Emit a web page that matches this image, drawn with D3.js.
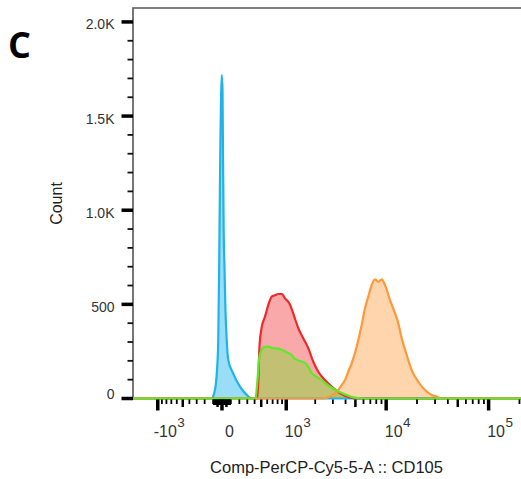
<!DOCTYPE html>
<html><head><meta charset="utf-8">
<script src="https://cdn.jsdelivr.net/npm/d3@7"></script>
<style>
html,body{margin:0;padding:0;background:#fff;}
svg{display:block;}
</style></head><body>
<svg id="chart" width="521" height="479"></svg>
<script>
// Display range of the channel (arcsinh-style biexponential axis) and counts
const xDomain = [-1813, 262144];
const yDomain = [0, 2074];
const asinhWidth = 500;

const yMajorTicks = [0, 500, 1000, 1500, 2000];
const yTickLabels = ["0", "500", "1.0K", "1.5K", "2.0K"];
const xMajorTicks = [-1000, 0, 1000, 10000, 100000];
const xTickBase = ["-10", "0", "10", "10", "10"];
const xTickSup = ["3", "", "3", "4", "5"];

// Histograms: channel value / event count
const blueVals   = [-200, -110, -102, -80, -68, -56, -42, -30, -19, -11, -3, 6, 11, 19, 28, 39, 53, 71, 125, 208, 292, 359, 420];
const blueCounts = [0, 0, 8, 45, 82, 151, 311, 789, 1320, 1586, 1718, 1639, 1320, 895, 699, 470, 311, 204, 135, 63, 19, 0, 0];

const redVals   = [442, 474, 505, 562, 620, 683, 749, 813, 900, 969, 1079, 1237, 1344, 1513, 1703, 1913, 2148, 2505, 2921, 3527, 4424, 5150];
const redCounts = [0, 284, 374, 435, 497, 541, 548, 555, 555, 532, 506, 426, 373, 320, 267, 195, 142, 98, 63, 28, 6, 0];

const orangeVals   = [2339, 2810, 3273, 3608, 3950, 4276, 4596, 5146, 5762, 6207, 6686, 7217, 7776, 8376, 9040, 9737, 10894, 12190, 13133, 14176, 15862, 17753, 20590, 23937, 27825, 31125, 35075];
const orangeCounts = [0, 11, 35, 66, 98, 146, 187, 275, 390, 479, 541, 603, 633, 620, 633, 603, 523, 453, 399, 320, 231, 151, 89, 45, 19, 10, 0];

const greenVals   = [413, 442, 470, 508, 562, 632, 688, 788, 900, 994, 1145, 1241, 1399, 1576, 1710, 1843, 2037, 2234, 2702, 3394, 3950, 4767, 5800];
const greenCounts = [0, 98, 220, 258, 274, 276, 268, 266, 258, 247, 231, 210, 199, 189, 167, 135, 117, 104, 69, 37, 22, 6, 0];

const svg = d3.select("#chart");
const FONT = "'Liberation Sans', Arial, sans-serif";

const tx = v => Math.asinh(v / asinhWidth);
const xLin = d3.scaleLinear().domain(xDomain.map(tx)).range([133, 531.5]);
const x = v => xLin(tx(v));
const y = d3.scaleLinear().domain(yDomain).range([398.5, 8]);

// panel letter
svg.append("text").attr("x", 8).attr("y", 58)
  .attr("font-family", "'Open Sans', 'Liberation Sans', sans-serif").attr("font-weight", 700)
  .attr("font-size", 36).attr("fill", "#000").text("C");

// clip to plot area
svg.append("defs").append("clipPath").attr("id", "plotclip")
  .append("rect").attr("x", 133).attr("y", 0).attr("width", 400).attr("height", 400);

// frame
svg.append("path")
  .attr("d", `M133,400 V8 H532`)
  .attr("fill", "none").attr("stroke", "#555").attr("stroke-width", 1.6);

const series = [
  {vals: blueVals,   counts: blueCounts,   line: "#1fb4e8", fill: "rgba(30,180,235,0.45)"},
  {vals: redVals,    counts: redCounts,    line: "#f02a2a", fill: "rgba(240,40,40,0.4)"},
  {vals: orangeVals, counts: orangeCounts, line: "#ff983a", fill: "rgba(255,150,50,0.4)"},
  {vals: greenVals,  counts: greenCounts,  line: "#5fe82a", fill: "rgba(140,215,60,0.5)"}
];

const area = d3.area().x(d => x(d[0])).y0(y(0)).y1(d => y(d[1])).curve(d3.curveMonotoneX);
const line = d3.line().x(d => x(d[0])).y(d => y(d[1])).curve(d3.curveMonotoneX);

const plot = svg.append("g").attr("clip-path", "url(#plotclip)");
const pts = s => [[xDomain[0], 0]].concat(s.vals.map((v, i) => [v, s.counts[i]])).concat([[xDomain[1], 0]]);

series.forEach(s => {
  plot.append("path").attr("d", area(pts(s))).attr("fill", s.fill).attr("stroke", "none");
});
series.forEach(s => {
  plot.append("path").attr("d", line(pts(s))).attr("fill", "none")
    .attr("stroke", s.line).attr("stroke-width", 2.2).attr("stroke-linejoin", "round");
});

// y axis ticks
const yMinor = d3.range(0, 2001, 100).filter(v => v % 500 !== 0);
const yAxis = svg.append("g");
yMinor.forEach(v => {
  yAxis.append("line").attr("x1", 127.5).attr("x2", 133).attr("y1", y(v)).attr("y2", y(v))
    .attr("stroke", "#111").attr("stroke-width", 1.8);
});
yMajorTicks.forEach((v, i) => {
  yAxis.append("line").attr("x1", 121.5).attr("x2", 133).attr("y1", y(v)).attr("y2", y(v))
    .attr("stroke", "#000").attr("stroke-width", 3.5);
  yAxis.append("text").attr("x", 114.5).attr("y", y(v) + (v === 0 ? 0 : 7.5))
    .attr("text-anchor", "end").attr("font-family", FONT).attr("font-size", 14)
    .attr("fill", "#333").text(yTickLabels[i]);
});

// x axis ticks: 1..9 x 10^n on both sides of zero
const xAxis = svg.append("g");
const xMinor = [];
[1, 2, 3, 4, 5].forEach(n => {
  d3.range(1, 10).forEach(k => {
    const v = k * Math.pow(10, n);
    if (k !== 1 || n < 3) xMinor.push({v, mid: k === 5, near: n === 1});
    if (n <= 2) xMinor.push({v: -v, mid: k === 5, near: n === 1});
  });
});
xMinor.filter(t => t.v > xDomain[0] && t.v < xDomain[1]).forEach(t => {
  xAxis.append("line").attr("x1", x(t.v)).attr("x2", x(t.v))
    .attr("y1", 399.5).attr("y2", t.mid ? 407 : (t.near ? 405 : 404))
    .attr("stroke", "#000").attr("stroke-width", t.mid ? 2.5 : (t.near ? 2.2 : 1.8));
});
xMajorTicks.forEach((v, i) => {
  xAxis.append("line").attr("x1", x(v)).attr("x2", x(v)).attr("y1", 399.5).attr("y2", 410.5)
    .attr("stroke", "#000").attr("stroke-width", 3.5);
  const cx = x(v) + 7.5;
  const base = xAxis.append("text").attr("x", cx).attr("y", 437)
    .attr("text-anchor", "middle").attr("font-family", FONT).attr("font-size", 16)
    .attr("fill", "#333").text(xTickBase[i]);
  if (xTickSup[i]) {
    const w = base.node().getComputedTextLength();
    xAxis.append("text").attr("x", cx + w / 2 + 0.5).attr("y", 427)
      .attr("font-family", FONT).attr("font-size", 13.5).attr("fill", "#333").text(xTickSup[i]);
  }
});

// axis titles
svg.append("text").attr("x", 326.5).attr("y", 473).attr("text-anchor", "middle")
  .attr("font-family", FONT).attr("font-size", 16.5).attr("fill", "#222")
  .text("Comp-PerCP-Cy5-5-A :: CD105");
svg.append("text").attr("transform", "translate(62,203.5) rotate(-90)").attr("text-anchor", "middle")
  .attr("font-family", FONT).attr("font-size", 16).attr("fill", "#222").text("Count");
</script>
</body></html>
